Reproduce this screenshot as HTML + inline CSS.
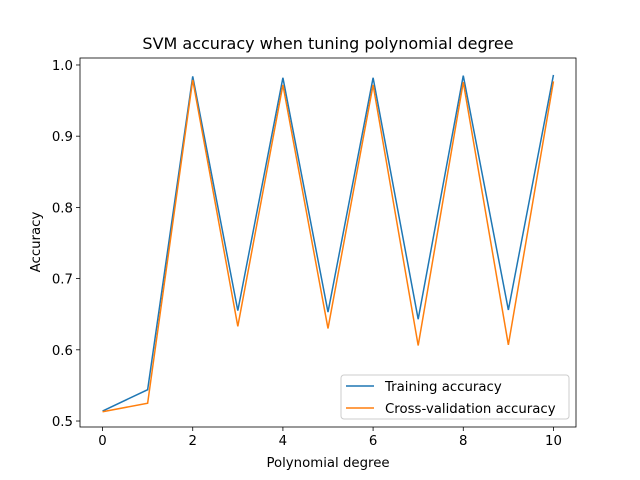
<!DOCTYPE html>
<html><head><meta charset="utf-8"><style>
body{margin:0;background:#fff}
svg{display:block;font-family:"DejaVu Sans","Liberation Sans",sans-serif}
</style></head><body>
<svg id="chart" width="640" height="480">
<rect width="640" height="480" fill="#fff"/>
<text x="328" y="49" font-size="16" text-anchor="middle">SVM accuracy when tuning polynomial degree</text>
<g id="ticks"></g>
<g id="lines"></g>
<rect x="80" y="58" width="496" height="369" fill="none" stroke="#000" stroke-width="0.8"/>
<text x="328" y="467" font-size="13.3" text-anchor="middle">Polynomial degree</text>
<text transform="translate(40,242) rotate(-90)" font-size="13.3" text-anchor="middle">Accuracy</text>
<g>
<rect x="341" y="375" width="228" height="44" rx="3" fill="#fff" fill-opacity="0.8" stroke="#ccc"/>
<g>
<line x1="346" y1="386" x2="374" y2="386" stroke="#1f77b4" stroke-width="1.5"/>
<text x="385" y="391" font-size="13.3">Training accuracy</text></g>
<g>
<line x1="346" y1="408" x2="374" y2="408" stroke="#ff7f0e" stroke-width="1.5"/>
<text x="385" y="413" font-size="13.3">Cross-validation accuracy</text></g>
</g>
</svg>
<script>
const degrees=[0,1,2,3,4,5,6,7,8,9,10];
const trainAcc=[0.514,0.544,0.984,0.655,0.982,0.653,0.982,0.643,0.985,0.656,0.986];
const cvAcc=[0.513,0.525,0.979,0.633,0.972,0.630,0.972,0.606,0.976,0.607,0.977];
const xTicks=[0,2,4,6,8,10];
const yTicks=[0.5,0.6,0.7,0.8,0.9,1.0];
const NS="http://www.w3.org/2000/svg";
const X0=80,X1=576,Y0=427,Y1=58,xmin=-0.5,xmax=10.5,ymin=0.4916,ymax=1.0098;
function sx(v){return X0+(v-xmin)/(xmax-xmin)*(X1-X0);}
function sy(v){return Y0-(v-ymin)/(ymax-ymin)*(Y0-Y1);}
const tg=document.getElementById('ticks');
xTicks.forEach(t=>{
const l=document.createElementNS(NS,'line');
l.setAttribute('x1',sx(t));l.setAttribute('x2',sx(t));l.setAttribute('y1',Y0);l.setAttribute('y2',Y0+4);l.setAttribute('stroke','#000');l.setAttribute('stroke-width','0.8');


tg.appendChild(l);
const tx=document.createElementNS(NS,'text');
tx.setAttribute('x',sx(t));tx.setAttribute('y',Y0+18);tx.setAttribute('font-size','13.3');tx.setAttribute('text-anchor','middle');tx.textContent=t;


tg.appendChild(tx);
});
yTicks.forEach(t=>{
const l=document.createElementNS(NS,'line');
l.setAttribute('x1',X0-4);l.setAttribute('x2',X0);l.setAttribute('y1',sy(t));l.setAttribute('y2',sy(t));l.setAttribute('stroke','#000');l.setAttribute('stroke-width','0.8');


tg.appendChild(l);
const tx=document.createElementNS(NS,'text');
tx.setAttribute('x',X0-7);tx.setAttribute('y',sy(t)+5);tx.setAttribute('font-size','13.3');tx.setAttribute('text-anchor','end');tx.textContent=t.toFixed(1);


tg.appendChild(tx);
});
const lg=document.getElementById('lines');
function draw(vals,color,name){
const p=document.createElementNS(NS,'polyline');
p.setAttribute('points',vals.map((v,i)=>sx(degrees[i])+','+sy(v)).join(' '));
p.setAttribute('fill','none');p.setAttribute('stroke',color);p.setAttribute('stroke-width','1.5');


lg.appendChild(p);
}
draw(trainAcc,'#1f77b4','training-accuracy-line');
draw(cvAcc,'#ff7f0e','cv-accuracy-line');
</script>
</body></html>
